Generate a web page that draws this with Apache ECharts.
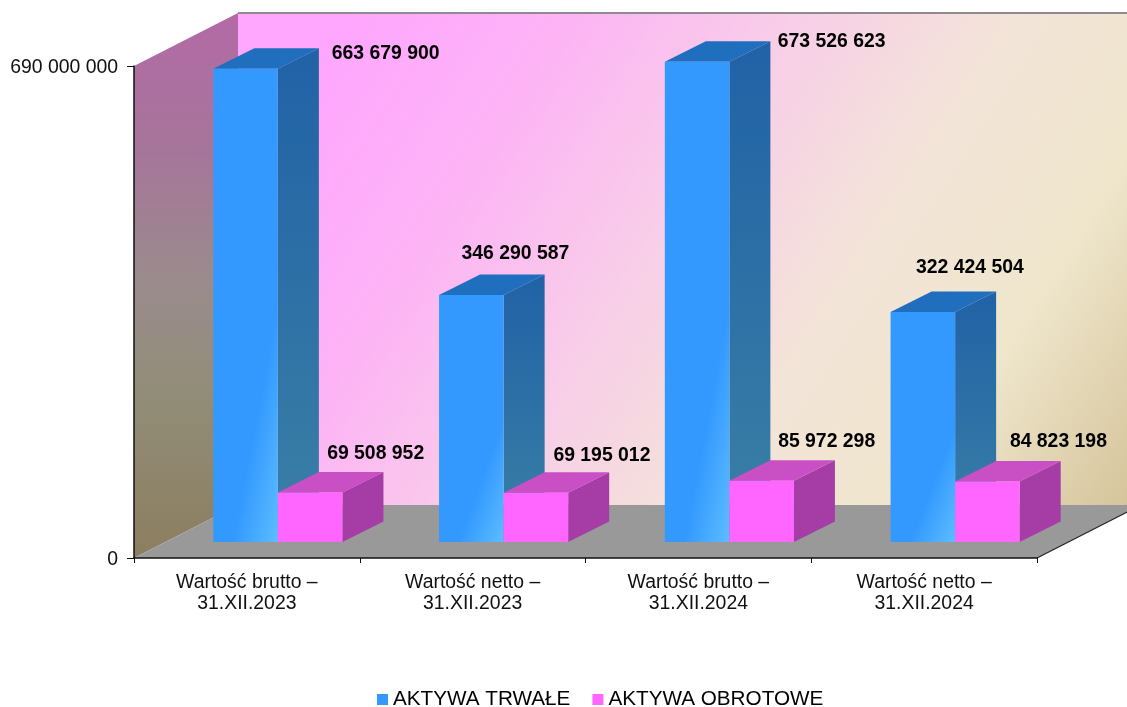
<!DOCTYPE html>
<html><head><meta charset="utf-8">
<style>html,body{margin:0;padding:0;background:#fff}#c{width:1127px;height:707px}</style>
<script src="https://cdn.jsdelivr.net/npm/echarts@6/dist/echarts.min.js"></script>
</head><body><div id="c"></div>
<script>
const categories = ['Wartość brutto –\n31.XII.2023','Wartość netto –\n31.XII.2023','Wartość brutto –\n31.XII.2024','Wartość netto –\n31.XII.2024'];
const aktywaTrwale = [663679900, 346290587, 673526623, 322424504];
const aktywaObrotowe = [69508952, 69195012, 85972298, 84823198];
const axisMax = 690000000;
// label placement relative to the top centre of each bar's front face
const labelShiftTrwale = [[140,-15],[44,-41],[134.5,-20],[47,-44]];
const labelShiftObrotowe = [[65.5,-39],[66,-37],[65,-39],[71,-40]];

const FONT = '"Liberation Sans", Arial, sans-serif';
const WALL = [104,-53], INSET = [31,-16], DEPTH = [41,-20.5];
const fmt = v => String(v).replace(/\B(?=(\d{3})+$)/g,' ');
const poly = (pts, fill, z2) => ({type:'polygon', shape:{points:pts}, style:{fill}, z2:z2||0});
const grad = (x,y,x2,y2,stops) => ({type:'linear',x,y,x2,y2,global:true,colorStops:stops.map(s=>({offset:s[0],color:s[1]}))});

function renderWalls(params, api){
  const a = api.coord([0,0]), size = api.size([1,0])[0];
  const bl = [a[0]-size/2, a[1]];
  const tl = [bl[0], api.coord([0,axisMax])[1]];
  const br = [bl[0]+size*categories.length, a[1]];
  const [dx,dy] = WALL;
  return {type:'group', children:[
    poly([[bl[0]+dx,tl[1]+dy],[br[0]+dx,tl[1]+dy],[br[0]+dx,bl[1]+dy],[bl[0]+dx,bl[1]+dy]],
      grad(bl[0]+dx+90,tl[1]+dy+10,br[0]+dx-30,bl[1]+dy+20,[[0,'#FFA6FF'],[0.2,'#FDB2F6'],[0.42,'#F8CEE8'],[0.62,'#F3E4D8'],[0.8,'#EFE6CC'],[1,'#D6C59C']])),
    poly([bl,tl,[tl[0]+dx,tl[1]+dy],[bl[0]+dx,bl[1]+dy]],
      grad(0,tl[1]+dy,0,bl[1],[[0,'#B36AA6'],[0.25,'#A6759A'],[0.5,'#9A8C8C'],[0.7,'#928D78'],[1,'#8C7E60']])),
    poly([bl,[bl[0]+dx,bl[1]+dy],[br[0]+dx,br[1]+dy],br],'#999999'),
    {type:'line', shape:{x1:tl[0]+dx,y1:tl[1]+dy,x2:br[0]+dx,y2:tl[1]+dy}, style:{stroke:'#8f8a8f',lineWidth:2}},
    {type:'line', shape:{x1:br[0],y1:br[1],x2:br[0]+dx,y2:br[1]+dy}, style:{stroke:'#222',lineWidth:1.2}}
  ]};
}

function barRenderer(slot, shifts, colors){
  return function(params, api){
    const i = params.dataIndex, v = api.value(1);
    const size = api.size([1,0])[0], w = size*0.286;
    const base = api.coord([i,0]), top = api.coord([i,v]);
    const x0 = base[0]-w+INSET[0]+slot*w, x1 = x0+w;
    const yb = base[1]+INSET[1], yt = top[1]+INSET[1];
    const [dx,dy] = DEPTH, h = yb-yt;
    const nx = 0.5*h, ny = 0.7*w, n = Math.hypot(nx,ny), sx = x0+0.3*w, L = (0.7*w*nx)/n;
    const front = colors.front2
      ? grad(sx,yb,sx+nx/n*L,yb+ny/n*L,[[0,colors.front],[1,colors.front2]])
      : colors.front;
    const side = colors.side2 ? grad(0,yt+dy,0,yb,[[0,colors.side],[1,colors.side2]]) : colors.side;
    const shift = shifts[i];
    return {type:'group', children:[
      poly([[x1,yb],[x1,yt],[x1+dx,yt+dy],[x1+dx,yb+dy]], side),
      poly([[x0,yt],[x0+dx,yt+dy],[x1+dx,yt+dy],[x1,yt]], colors.top),
      poly([[x0,yb],[x0,yt],[x1,yt],[x1,yb]], front),
      {type:'text', z2:10, style:{text:fmt(v), x:x0+w/2+shift[0], y:yt+shift[1], align:'center', verticalAlign:'middle',
        font:'bold 19.4px '+FONT, fill:'#000'}}
    ]};
  };
}

const chart = echarts.init(document.getElementById('c'), null, {renderer:'canvas'});
chart.setOption({
  animation:false,
  backgroundColor:'#fff',
  grid:{left:134,right:90,top:66,bottom:149,containLabel:false},
  legend:{
    data:['AKTYWA TRWAŁE','AKTYWA OBROTOWE'], left:372, top:684, icon:'rect',
    itemWidth:11, itemHeight:11, itemGap:22, selectedMode:false,
    textStyle:{fontFamily:FONT,fontSize:20.7,color:'#000'}
  },
  xAxis:{type:'category',data:categories,z:10,
    axisLine:{lineStyle:{color:'#111',width:1.5}},
    axisTick:{show:true,length:5,lineStyle:{color:'#111'}},
    axisLabel:{fontFamily:FONT,fontSize:19.4,lineHeight:21,color:'#111',margin:14,interval:0}},
  yAxis:{type:'value',min:0,max:axisMax,interval:axisMax,z:10,
    axisLine:{show:true,lineStyle:{color:'#111',width:1.5}},
    axisTick:{show:true,length:7,lineStyle:{color:'#111'}},
    splitLine:{show:false},
    axisLabel:{fontFamily:FONT,fontSize:19.4,color:'#111',margin:16,
      formatter:v=>'{a|'+fmt(v)+'}',
      rich:{a:{fontFamily:FONT,fontSize:19.4,color:'#111',padding:[4,0,0,0]}}}},
  series:[
    {type:'custom',name:'walls',data:[[0,0]],renderItem:renderWalls,silent:true,z:1,clip:false,legendHoverLink:false},
    {type:'custom',name:'AKTYWA TRWAŁE',z:2,clip:false,itemStyle:{color:'#3399FF'},
      encode:{x:0,y:1},data:aktywaTrwale.map((v,i)=>[i,v]),
      renderItem:barRenderer(0,labelShiftTrwale,{front:'#3399FF',front2:'#5CBDFF',side:'#2062A6',side2:'#3B80A6',top:'#206FBF'})},
    {type:'custom',name:'AKTYWA OBROTOWE',z:3,clip:false,itemStyle:{color:'#FF66FF'},
      encode:{x:0,y:1},data:aktywaObrotowe.map((v,i)=>[i,v]),
      renderItem:barRenderer(1,labelShiftObrotowe,{front:'#FF66FF',side:'#A63DA6',top:'#C94FC4'})}
  ]
});
</script></body></html>
